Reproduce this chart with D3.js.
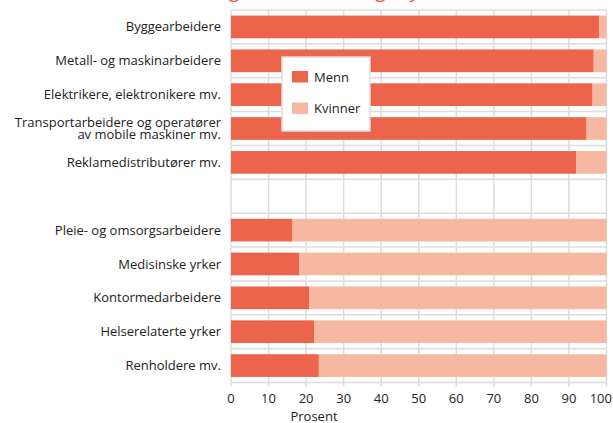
<!DOCTYPE html>
<html>
<head>
  <meta charset="utf-8" />
  <title>Kjønnsfordeling i yrker</title>
  <script src="https://d3js.org/d3.v7.min.js"></script>
  <style>
    body { margin: 0; background: #fff; overflow: hidden; }
    svg { display: block; }
    svg text { font-family: "Open Sans", sans-serif; fill: #222; }
    .grid line { stroke: #dcdcdc; stroke-width: 1.5; }
    .cat { font-size: 13px; }
    .tick-label { font-size: 13px; }
  </style>
</head>
<body>
  <script type="text/javascript">
    // - - - - - DATA - - - - - //
    var categories = [
      "Byggearbeidere",
      "Metall- og maskinarbeidere",
      "Elektrikere, elektronikere mv.",
      "Transportarbeidere og operatører|av mobile maskiner mv.",
      "Reklamedistributører mv.",
      "",
      "Pleie- og omsorgsarbeidere",
      "Medisinske yrker",
      "Kontormedarbeidere",
      "Helserelaterte yrker",
      "Renholdere mv."
    ];
    var menn    = [98, 96.6, 96.3, 94.7, 92, null, 16.4, 18.1, 20.8, 22.1, 23.4];
    var kvinner = [2, 3.4, 3.7, 5.3, 8, null, 83.6, 81.9, 79.2, 77.9, 76.6];
    var xTicks  = [0, 10, 20, 30, 40, 50, 60, 70, 80, 90, 100];
    var seriesNames = ["Menn", "Kvinner"];
    var colors = ["#ec644b", "#f6b8a1"];

    var width = 613, height = 423;
    var margin = {top: 10, right: 6.5, bottom: 40.5, left: 231};
    var w = width - margin.left - margin.right,
        h = height - margin.top - margin.bottom;

    var svg = d3.select("body").append("svg")
        .attr("width", width)
        .attr("height", height);

    // title, mostly above the visible area
    svg.append("text")
        .attr("x", 306)
        .attr("y", -3)
        .attr("text-anchor", "middle")
        .style("font-size", "20px")
        .style("fill", "#ea5a3f")
        .text("Andel menn og kvinner i utvalgte yrker, 2016");

    var g = svg.append("g")
        .attr("transform", "translate(" + margin.left + "," + margin.top + ")");

    var x = d3.scaleLinear().domain([0, 100]).range([0, w]);
    var y = d3.scaleBand()
        .domain(d3.range(categories.length))
        .range([0, h])
        .paddingInner(0.33)
        .paddingOuter(0.165);

    var step = y.step();
    var bounds = d3.range(categories.length + 1).map(function(i) { return i * step; });

    // grid
    var grid = g.append("g").attr("class", "grid");
    grid.selectAll(".v").data(xTicks).enter().append("line")
        .attr("x1", function(d) { return x(d); })
        .attr("x2", function(d) { return x(d); })
        .attr("y1", 0)
        .attr("y2", h + 4);
    grid.selectAll(".h").data(bounds).enter().append("line")
        .attr("x1", 0)
        .attr("x2", w)
        .attr("y1", function(d) { return d; })
        .attr("y2", function(d) { return d; });

    // stacked bars
    var rows = categories.map(function(c, i) {
      return {i: i, menn: menn[i], kvinner: kvinner[i]};
    }).filter(function(d) { return d.menn != null; });

    g.selectAll(".bar-m").data(rows).enter().append("rect")
        .attr("x", x(0))
        .attr("y", function(d) { return y(d.i); })
        .attr("width", function(d) { return x(d.menn) - x(0); })
        .attr("height", y.bandwidth())
        .attr("fill", colors[0]);

    g.selectAll(".bar-k").data(rows).enter().append("rect")
        .attr("x", function(d) { return x(d.menn); })
        .attr("y", function(d) { return y(d.i); })
        .attr("width", function(d) { return x(d.menn + d.kvinner) - x(d.menn); })
        .attr("height", y.bandwidth())
        .attr("fill", colors[1]);

    // category labels
    g.selectAll(".cat").data(categories).enter().append("text")
        .attr("class", "cat")
        .attr("text-anchor", "end")
        .attr("x", -10)
        .attr("y", function(d, i) { return y(i) + y.bandwidth() / 2; })
        .each(function(d) {
          var lines = d.split("|");
          var t = d3.select(this);
          lines.forEach(function(l, k) {
            t.append("tspan")
              .attr("x", -10)
              .attr("dy", k === 0 ? (0.35 - (lines.length - 1) * 0.47) + "em" : "0.94em")
              .text(l);
          });
        });

    // x tick labels (last one pulled in so it stays inside the picture)
    g.selectAll(".tick-label").data(xTicks).enter().append("text")
        .attr("class", "tick-label")
        .attr("text-anchor", function(d, i) { return i === xTicks.length - 1 ? "end" : "middle"; })
        .attr("x", function(d, i) { return i === xTicks.length - 1 ? x(d) + 5.5 : x(d); })
        .attr("y", h + 20)
        .text(function(d) { return d; });

    svg.append("text")
        .attr("x", 314)
        .attr("y", 421)
        .attr("text-anchor", "middle")
        .style("font-size", "13px")
        .text("Prosent");

    // legend
    var legend = svg.append("g").attr("transform", "translate(282,57)");
    legend.append("rect")
        .attr("width", 88)
        .attr("height", 74)
        .attr("fill", "#fff")
        .attr("stroke", "#dcdcdc")
        .attr("stroke-width", 1.5);
    var item = legend.selectAll(".item").data(seriesNames).enter().append("g")
        .attr("transform", function(d, i) { return "translate(10," + (14 + i * 31.5) + ")"; });
    item.append("rect")
        .attr("width", 16)
        .attr("height", 11.5)
        .attr("fill", function(d, i) { return colors[i]; });
    item.append("text")
        .attr("x", 22)
        .attr("y", 6)
        .attr("dy", "0.35em")
        .style("font-size", "13px")
        .text(function(d) { return d; });
  </script>
</body>
</html>
